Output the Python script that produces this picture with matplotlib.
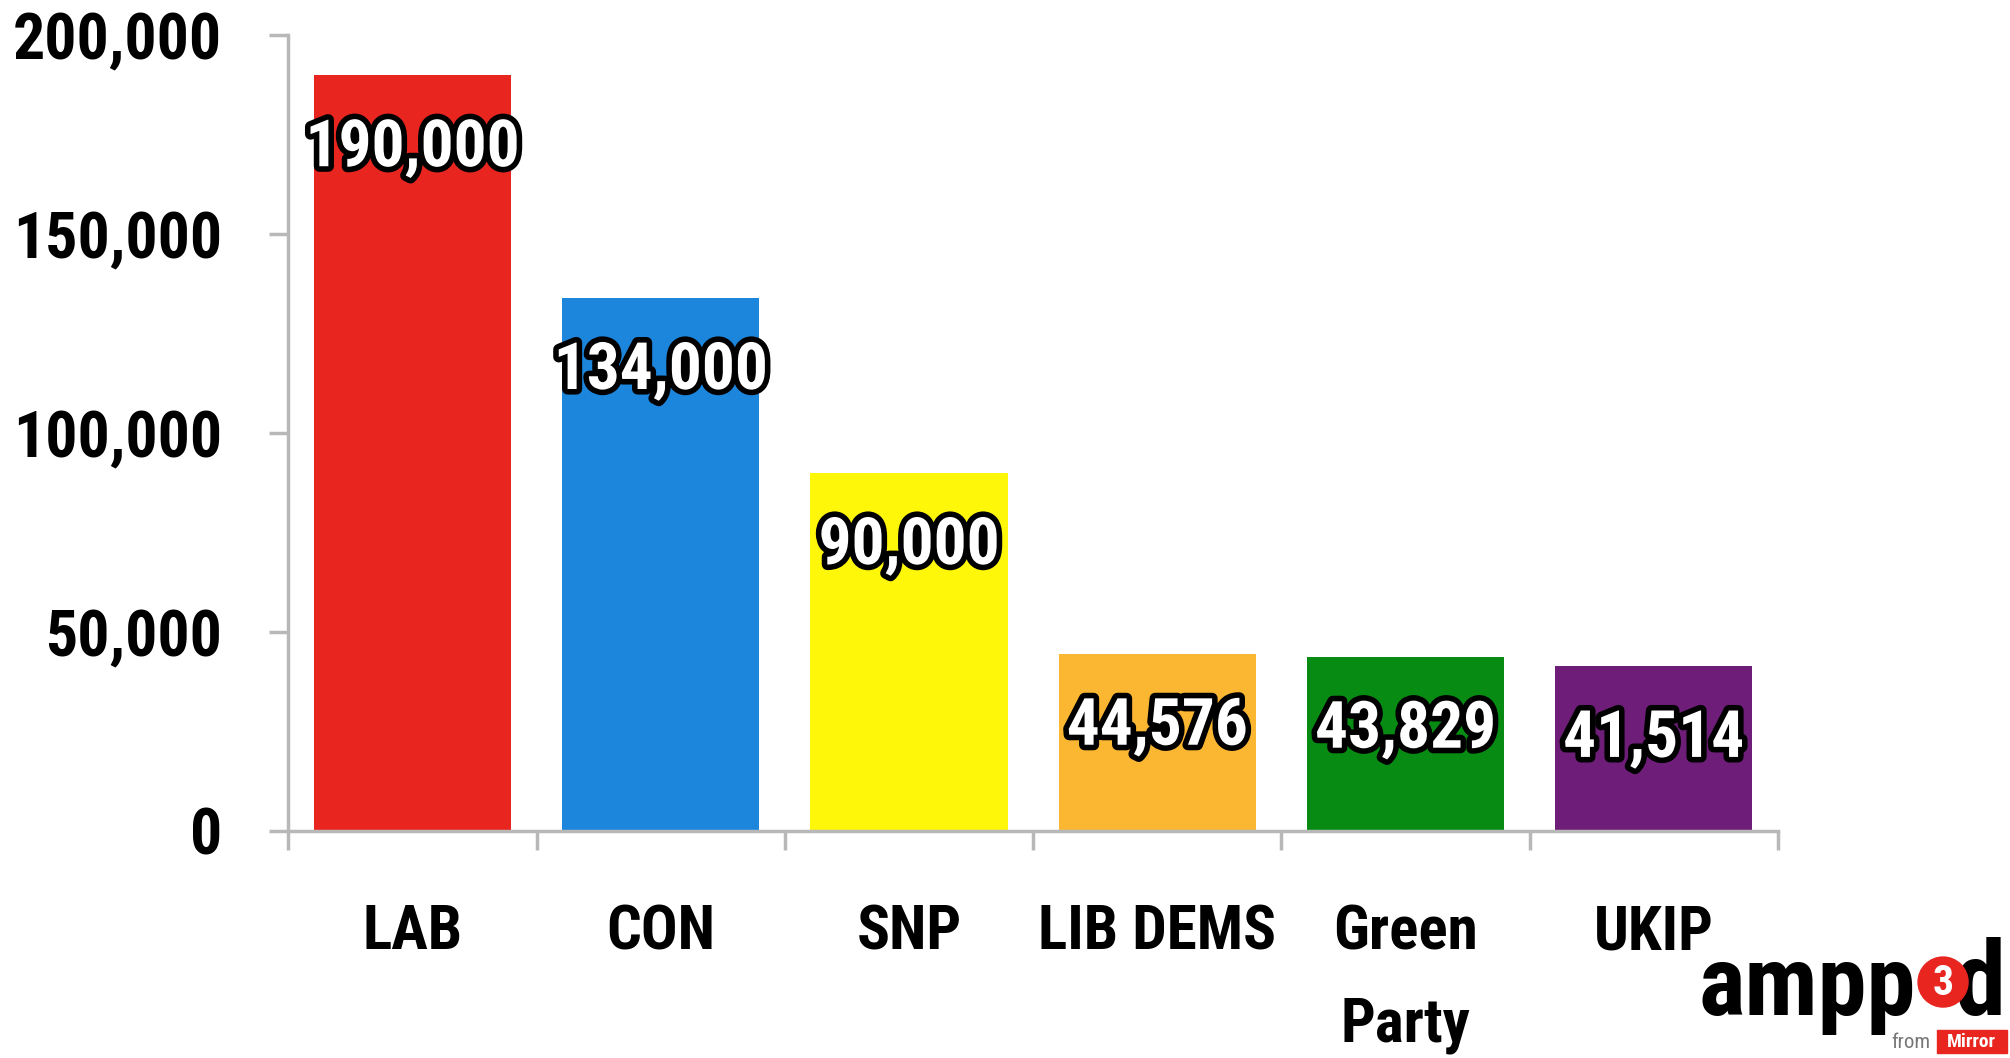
import matplotlib
matplotlib.use("Agg")
import matplotlib.pyplot as plt
import matplotlib.patheffects as pe
from matplotlib import font_manager as fm
from matplotlib.patches import Ellipse, Rectangle
from matplotlib.ticker import FuncFormatter

# Donnees
parties = ["LAB", "CON", "SNP", "LIB DEMS", "Green\nParty", "UKIP"]
members = [190000, 134000, 90000, 44576, 43829, 41514]
colours = ["#e8251f", "#1c86dd", "#fff70a", "#fbb731", "#078b12", "#6e1e79"]
yticks = [0, 50000, 100000, 150000, 200000]

# Police etroite et grasse, la premiere trouvee
names = set(f.name for f in fm.fontManager.ttflist)
candidats = ["Roboto Condensed", "Barlow Condensed", "PT Sans Narrow",
             "Encode Sans Condensed", "Liberation Sans Narrow", "Open Sans Condensed"]
FONT = [c for c in candidats if c in names][:1] + ["DejaVu Sans"]
plt.rcParams["font.family"] = FONT
plt.rcParams["font.weight"] = "bold"

fig = plt.figure(figsize=(20.1, 10.58), dpi=100)
ax = fig.add_axes([0.1435, 0.2146, 0.741, 0.752])

x = list(range(len(parties)))
ax.bar(x, members, width=0.795, color=colours, zorder=2)

# Etiquettes des barres (blanc, contour noir)
for xi, v in zip(x, members):
    ax.annotate(f"{v:,}", (xi, v), xytext=(0, -53), textcoords="offset points",
                ha="center", va="center", fontsize=47, color="white",
                fontweight="bold",
                path_effects=[pe.withStroke(linewidth=8, foreground="black")],
                zorder=3)

ax.set_xlim(-0.5, len(parties) - 0.5)
ax.set_ylim(0, 200000)

ax.set_yticks(yticks)
ax.yaxis.set_major_formatter(FuncFormatter(lambda v, p: f"{int(v):,}"))
ax.tick_params(axis="y", length=14, width=2.5, color="#b8b8b8", pad=34,
               labelsize=46)

ax.set_xticks(x)
ax.set_xticklabels(parties, fontsize=44, linespacing=1.75, va="top")
ax.set_xticks([i - 0.5 for i in range(len(parties) + 1)], minor=True)
ax.tick_params(axis="x", which="major", length=0, pad=52)
ax.tick_params(axis="x", which="minor", length=14, width=2.5, color="#b8b8b8")

for s in ["top", "right"]:
    ax.spines[s].set_visible(False)
for s in ["left", "bottom"]:
    ax.spines[s].set_color("#b8b8b8")
    ax.spines[s].set_linewidth(2.5)

# Logo ampp3d
fig.text(0.8448, 0.0406, "ampp", fontsize=71, fontweight="bold",
         color="black", ha="left", va="baseline")
fig.patches.append(Ellipse((0.9667, 0.0718), 50 / 2010, 50 / 1058,
                           transform=fig.transFigure, color="#e8251f", zorder=5))
fig.text(0.9667, 0.0708, "3", fontsize=30, fontweight="bold", color="white",
         ha="center", va="center", zorder=6)
fig.text(0.998, 0.0406, "d", fontsize=74, fontweight="bold",
         color="black", ha="right", va="baseline")
fig.text(0.9605, 0.0142, "from", fontsize=15, color="#777777",
         fontweight="normal", ha="right", va="center")
fig.patches.append(Rectangle((0.9637, 0.0047), 0.0348, 0.0217,
                             transform=fig.transFigure, color="#e8251f"))
fig.text(0.981, 0.0155, "Mirror", fontsize=14, color="white",
         fontweight="bold", ha="center", va="center")

fig.savefig("out.png", dpi=100)
